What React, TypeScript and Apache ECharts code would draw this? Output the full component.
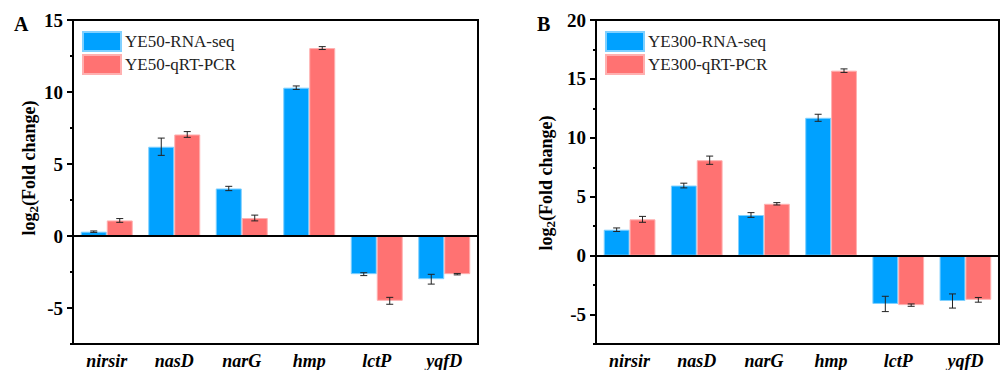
import React, { useEffect, useRef } from "react";
import * as echarts from "echarts";

const categories = ["nirsir", "nasD", "narG", "hmp", "lctP", "yqfD"];
const aSeqName = "YE50-RNA-seq";
const aPcrName = "YE50-qRT-PCR";
const bSeqName = "YE300-RNA-seq";
const bPcrName = "YE300-qRT-PCR";
const aRnaSeq = [0.3, 6.2, 3.3, 10.3, -2.65, -3.0];
const aRnaSeqErr = [0.05, 0.6, 0.15, 0.12, 0.1, 0.34];
const aQpcr = [1.08, 7.05, 1.25, 13.05, -4.5, -2.65];
const aQpcrErr = [0.13, 0.2, 0.2, 0.1, 0.24, 0.05];
const bRnaSeq = [2.2, 5.95, 3.45, 11.7, -4.1, -3.85];
const bRnaSeqErr = [0.15, 0.2, 0.2, 0.3, 0.65, 0.6];
const bQpcr = [3.08, 8.1, 4.4, 15.7, -4.2, -3.75];
const bQpcrErr = [0.25, 0.35, 0.1, 0.15, 0.1, 0.2];
const aTicks = [-5, 0, 5, 10, 15];
const bTicks = [-5, 0, 5, 10, 15, 20];

const BLUE = "#00A1FF";
const RED = "#FF7272";
const FONT = "Liberation Serif";
const BAR_RATIO = 0.385;

function errSeries(name: string, xi: number, vals: number[], errs: number[], side: number) {
  return {
    type: "custom",
    name: name + "-err",
    xAxisIndex: xi,
    yAxisIndex: xi * 2,
    z: 5,
    silent: true,
    data: vals.map((v, i) => [i, v, errs[i]]),
    renderItem: (params: any, api: any) => {
      const idx = api.value(0);
      const v = api.value(1);
      const e = api.value(2);
      const bw = api.size([1, 0])[0] * BAR_RATIO;
      const c = api.coord([idx, v]);
      const hi = api.coord([idx, v + e]);
      const lo = api.coord([idx, v - e]);
      const x = c[0] + (side * bw) / 2;
      const cap = 3.5;
      const st = { stroke: "#222", lineWidth: 1 };
      return {
        type: "group",
        children: [
          { type: "line", shape: { x1: x, y1: hi[1], x2: x, y2: lo[1] }, style: st },
          { type: "line", shape: { x1: x - cap, y1: hi[1], x2: x + cap, y2: hi[1] }, style: st },
          { type: "line", shape: { x1: x - cap, y1: lo[1], x2: x + cap, y2: lo[1] }, style: st },
        ],
      };
    },
  };
}

function barSeries(name: string, xi: number, vals: number[], color: string, border: string, zero: boolean) {
  const s: any = {
    type: "bar",
    name,
    xAxisIndex: xi,
    yAxisIndex: xi * 2,
    data: vals,
    barWidth: BAR_RATIO * 100 + "%",
    barGap: "0%",
    itemStyle: { color, borderColor: border, borderWidth: 1 },
  };
  if (zero) {
    s.markLine = {
      silent: true,
      symbol: "none",
      label: { show: false },
      lineStyle: { color: "#000", width: 2, type: "solid" },
      data: [{ yAxis: 0 }],
    };
  }
  return s;
}

function yAxes(gi: number, max: number, ticks: number[]) {
  return [
    {
      type: "value",
      gridIndex: gi,
      min: -7.5,
      max,
      interval: 2.5,
      splitLine: { show: false },
      axisLine: { show: true, lineStyle: { color: "#000", width: 2 } },
      axisTick: { show: true, length: 6, inside: false, customValues: ticks, lineStyle: { color: "#000", width: 2 } },
      axisLabel: {
        customValues: ticks,
        margin: 10,
        color: "#000",
        fontFamily: FONT,
        fontWeight: "bold",
        fontSize: 19,
      },
    },
    {
      type: "value",
      gridIndex: gi,
      position: "left",
      min: -7.5,
      max,
      interval: 2.5,
      splitLine: { show: false },
      axisLine: { show: false },
      axisTick: { show: true, length: 3, lineStyle: { color: "#000", width: 2 } },
      axisLabel: { show: false },
    },
  ];
}

function xAxis(gi: number) {
  return {
    type: "category",
    gridIndex: gi,
    data: categories,
    axisLine: { onZero: false, lineStyle: { color: "#000", width: 2 } },
    axisTick: { show: false },
    axisLabel: {
      margin: 8,
      color: "#000",
      fontFamily: FONT,
      fontWeight: "bold",
      fontStyle: "italic",
      fontSize: 18,
    },
  };
}

function legend(names: string[], left: number) {
  return {
    data: names,
    orient: "vertical",
    left,
    top: 31,
    padding: 0,
    itemWidth: 38,
    itemHeight: 19,
    itemGap: 2,
    icon: "rect",
    textStyle: { fontFamily: FONT, fontSize: 17, color: "#222", padding: [0, 0, 0, -1] },
  };
}

function yTitle(x: number, y: number) {
  return {
    type: "text",
    x,
    y,
    rotation: Math.PI / 2,
    style: {
      text: "{b|log}{s|2}{b|(Fold change)}",
      fontFamily: FONT,
      fontWeight: "bold",
      fontSize: 18,
      align: "center",
      verticalAlign: "middle",
      rich: {
        b: { fontFamily: FONT, fontWeight: "bold", fontSize: 18, fill: "#000", lineHeight: 22, verticalAlign: "middle" },
        s: { fontFamily: FONT, fontWeight: "bold", fontSize: 13, fill: "#000", lineHeight: 22, verticalAlign: "bottom", padding: [9, 0, 0, 0] },
      },
    },
  };
}

function panelLetter(t: string, x: number) {
  return {
    type: "text",
    x,
    y: 14,
    style: { text: t, fontFamily: FONT, fontWeight: "bold", fontSize: 20, fill: "#000" },
  };
}

export default function App() {
  const ref = useRef<HTMLDivElement>(null);
  useEffect(() => {
    document.body.style.margin = "0";
    const chart = echarts.init(ref.current!, null, { renderer: "svg" });
    chart.setOption({
      animation: false,
      backgroundColor: "#fff",
      textStyle: { fontFamily: FONT },
      grid: [
        { left: 73, top: 20, width: 405, height: 327, show: true, borderColor: "#000", borderWidth: 2, backgroundColor: "transparent" },
        { left: 596, top: 20, width: 403, height: 327, show: true, borderColor: "#000", borderWidth: 2, backgroundColor: "transparent" },
      ],
      legend: [legend([aSeqName, aPcrName], 82), legend([bSeqName, bPcrName], 605)],
      xAxis: [xAxis(0), xAxis(1)],
      yAxis: [...yAxes(0, 15, aTicks), ...yAxes(1, 20, bTicks)],
      series: [
        barSeries(aSeqName, 0, aRnaSeq, BLUE, "#7fd0ff", true),
        barSeries(aPcrName, 0, aQpcr, RED, "#ffb0b0", false),
        errSeries(aSeqName, 0, aRnaSeq, aRnaSeqErr, -1),
        errSeries(aPcrName, 0, aQpcr, aQpcrErr, 1),
        barSeries(bSeqName, 1, bRnaSeq, BLUE, "#7fd0ff", true),
        barSeries(bPcrName, 1, bQpcr, RED, "#ffb0b0", false),
        errSeries(bSeqName, 1, bRnaSeq, bRnaSeqErr, -1),
        errSeries(bPcrName, 1, bQpcr, bQpcrErr, 1),
      ],
      graphic: [yTitle(29, 168), yTitle(546, 183), panelLetter("A", 14), panelLetter("B", 537)],
    });
    return () => chart.dispose();
  }, []);
  return <div ref={ref} style={{ width: 1001, height: 370 }} />;
}
